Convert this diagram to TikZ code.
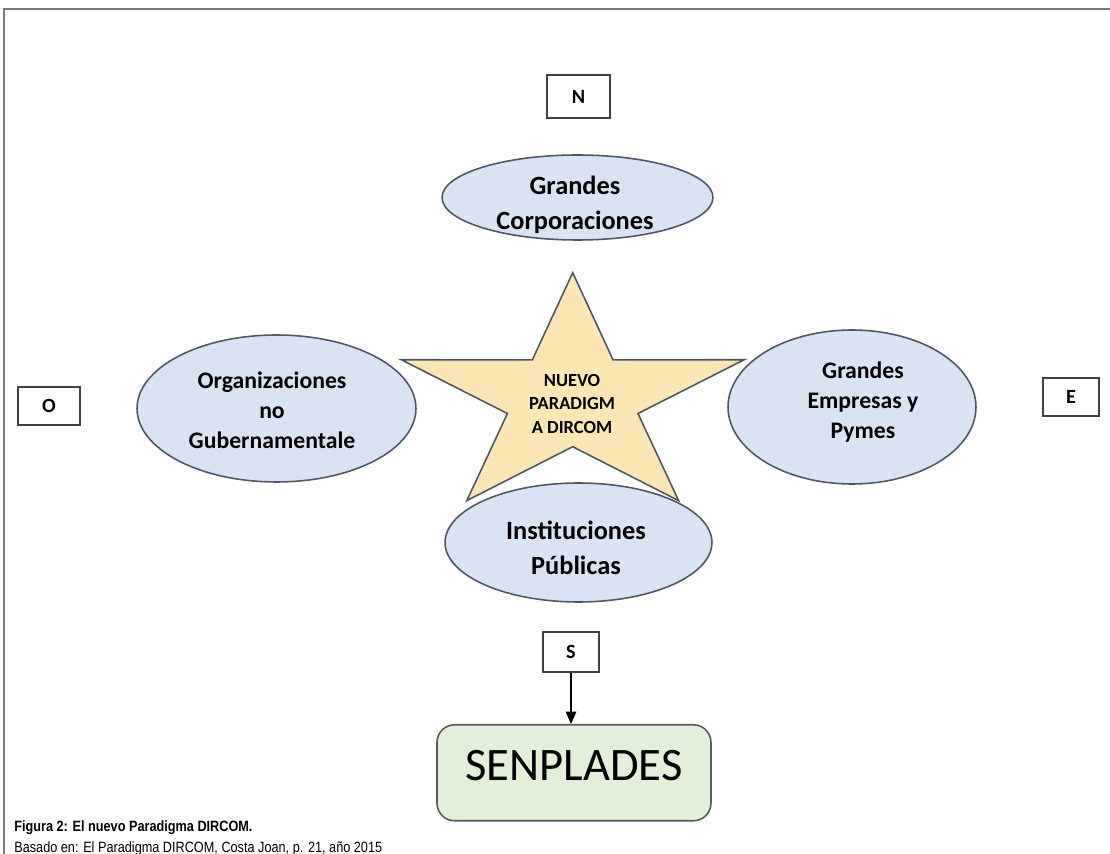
\documentclass[tikz,border=0pt]{standalone}
\usepackage{fontspec}
\usepackage{xcolor}
\usepackage{tikz}
\usetikzlibrary{positioning,arrows.meta,shapes.geometric}
\newfontfamily\carlito{Carlito}
\newfontfamily\capfont{Liberation Sans}
\definecolor{ovalfill}{RGB}{218,227,243}
\definecolor{ovalline}{RGB}{80,86,100}
\definecolor{starfill}{RGB}{252,230,180}
\definecolor{boxfill}{RGB}{226,239,217}
\definecolor{framegray}{RGB}{120,120,120}
\tikzset{
  oval/.style={ellipse, draw=ovalline, fill=ovalfill, line width=0.9pt, inner sep=0pt},
  ovaltext/.style={align=center, inner sep=0pt, font=\carlito\bfseries\fontsize{15}{19.8}\selectfont},
  smallovaltext/.style={ovaltext, font=\carlito\bfseries\fontsize{13.5}{17}\selectfont},
  starshape/.style={draw=ovalline, fill=starfill, line width=0.9pt, line join=miter},
  dirbox/.style={draw=black!75, line width=0.6pt, fill=white, inner sep=0pt,
    font=\carlito\bfseries\fontsize{11.5}{13}\selectfont},
  mainbox/.style={draw=black!65, fill=boxfill, line width=0.9pt, rounded corners=10pt,
    inner ysep=0pt, minimum width=5.48cm, text height=1.12cm, text depth=0.8cm,
    font=\carlito\fontsize{26.5}{30}\selectfont}
}
\begin{document}
\begin{tikzpicture}[x=0.02cm, y=-0.02cm]
    \useasboundingbox (0,0) rectangle (1110,854);
    \draw[framegray, line width=1.2pt] (4,854) -- (4,9) -- (1110,9);
    % star in the middle
    \begin{scope}[shift={(572.7,398.7)}, xscale=1.43]
        \draw[starshape] (-90:126) \foreach \a in {0,72,...,288} { -- (-90+\a:126) -- (-54+\a:48) } -- cycle;
    \end{scope}
    \node[align=center, font=\carlito\bfseries\fontsize{10.5}{13.4}\selectfont] (paradigma) at (572,404) {NUEVO\\PARADIGM\\A DIRCOM};
    % ovals
    \node[oval, minimum width=5.42cm, minimum height=1.70cm] (corp) at (577.5,197.5) {};
    \node[ovaltext] (corptxt) at (575,205) {Grandes\\Corporaciones};
    \node[oval, minimum width=5.58cm, minimum height=2.94cm] (ong) at (276.5,408.5) {};
    \node[smallovaltext] (ongtxt) at (272,410) {Organizaciones\\no\\Gubernamentale};
    \node[oval, minimum width=4.96cm, minimum height=3.08cm] (pymes) at (852,407) {};
    \node[smallovaltext] (pymestxt) at (863,402) {Grandes\\Empresas y\\Pymes};
    \node[oval, minimum width=5.34cm, minimum height=2.38cm] (publicas) at (578.5,542.5) {};
    \node[ovaltext] (publicastxt) at (576,548) {Instituciones\\Públicas};
    % cardinal points
    \node[dirbox, minimum width=1.26cm, minimum height=0.86cm] (norte) at (578.5,96.5) {N};
    \node[dirbox, minimum width=1.24cm, minimum height=0.76cm] (oeste) at (49,406) {O};
    \node[dirbox, minimum width=1.12cm, minimum height=0.76cm] (este) at (1071,397) {E};
    \node[dirbox, minimum width=1.12cm, minimum height=0.80cm] (sur) at (571,652) {S};
    \node[mainbox, anchor=north] (senplades) at (574,724) {SENPLADES};
    \draw[-{Triangle[length=7pt,width=6pt]}, line width=0.7pt] (sur.south) -- (sur.south |- senplades.north);
    % caption
    \node[anchor=base west, inner sep=0pt, font=\capfont\bfseries\fontsize{8.5}{10}\selectfont] (figura) at (14,832) {\scalebox{0.85}[1]{Figura 2: El nuevo Paradigma DIRCOM.}};
    \node[anchor=base west, inner sep=0pt, font=\capfont\fontsize{8.5}{10}\selectfont] (fuente) at (14,853) {\scalebox{0.85}[1]{Basado en: El Paradigma DIRCOM, Costa Joan, p. 21, año 2015}};
\end{tikzpicture}
\end{document}
